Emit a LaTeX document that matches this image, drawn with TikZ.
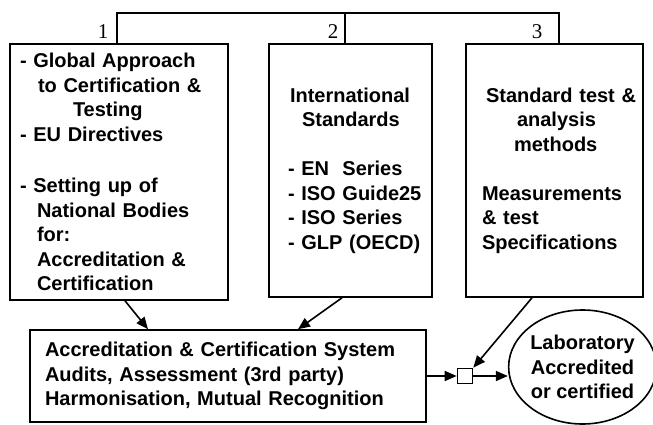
\documentclass[tikz,border=0pt]{standalone}
\usepackage{fontspec}
\setmainfont{Liberation Sans}
\newfontfamily\numfont{Liberation Serif}
\usetikzlibrary{positioning, arrows.meta, shapes.geometric}

\begin{document}
\begin{tikzpicture}[x=1pt, y=-1pt, line width=1.6pt,
    every node/.style={font=\fontsize{20}{24.5}\selectfont\bfseries},
    box/.style={draw, align=left, inner ysep=0pt},
    tag/.style={font=\fontsize{21}{24}\selectfont\numfont, inner sep=0pt},
    >={Triangle[length=12pt, width=10pt]}]
    \useasboundingbox (0,0) rectangle (653,425);

    \node (approach) [box, minimum width=218pt, minimum height=256pt, text width=198pt, inner xsep=10pt] at (119,172)
        {- Global Approach\\
         \hspace*{18pt}to Certification \&\\
         \hspace*{53pt}Testing\\
         - EU Directives\\[27pt]
         - Setting up of\\
         \hspace*{17pt}National Bodies\\
         \hspace*{17pt}for:\\
         \hspace*{17pt}Accreditation \&\\
         \hspace*{17pt}Certification};
    \node (standards) [box, minimum width=163pt, minimum height=253pt, text width=147pt, inner xsep=8pt] at (350.5,170.5)
        {\hspace*{13pt}International\\
         \hspace*{25pt}Standards\\[24.5pt]
         \hspace*{11pt}- EN\ \ Series\\
         \hspace*{11pt}- ISO Guide25\\
         \hspace*{11pt}- ISO Series\\
         \hspace*{11pt}- GLP (OECD)};
    \node (methods) [box, minimum width=177pt, minimum height=253pt, text width=165pt, inner xsep=6pt] at (554.5,170.5)
        {\hspace*{14pt}Standard test \&\\
         \hspace*{45pt}analysis\\
         \hspace*{42pt}methods\\[24.5pt]
         \hspace*{10pt}Measurements\\
         \hspace*{10pt}\& test\\
         \hspace*{10pt}Specifications};
    \node (system) [box, minimum width=396pt, minimum height=92pt, text width=366pt, inner xsep=15pt] at (228,376)
        {Accreditation \& Certification System\\
         Audits, Assessment (3rd party)\\
         Harmonisation, Mutual Recognition};
    \node (junction) [draw, minimum size=15pt, inner sep=0pt] at (465,376) {};
    \node (lab) [draw, ellipse, align=center, inner sep=0pt, minimum width=138pt, minimum height=114pt] at (582.5,367)
        {Laboratory\\ Accredited\\ or certified};

    \node (n1) [tag] at (103,32) {1};
    \node (n2) [tag] at (333,32) {2};
    \node (n3) [tag] at (537,32) {3};

    % Liaisons
    \draw ([xshift=-2pt]approach.north) -- ++(0,-30) -| ([xshift=4.5pt]methods.north);
    \draw ([xshift=-5.5pt]standards.north) -- ++(0,-30);
    \draw[->] ([xshift=6pt]approach.south) -- ([xshift=-80pt]system.north);
    \draw[->] ([xshift=-8.5pt]standards.south) -- ([xshift=70pt]system.north);
    \draw[->] ([xshift=-22.5pt]methods.south) -- (junction.north east);
    \draw[->] (system.east) -- (junction.west);
    \draw[->] (junction.east) -- (junction.east -| lab.west);
\end{tikzpicture}
\end{document}
